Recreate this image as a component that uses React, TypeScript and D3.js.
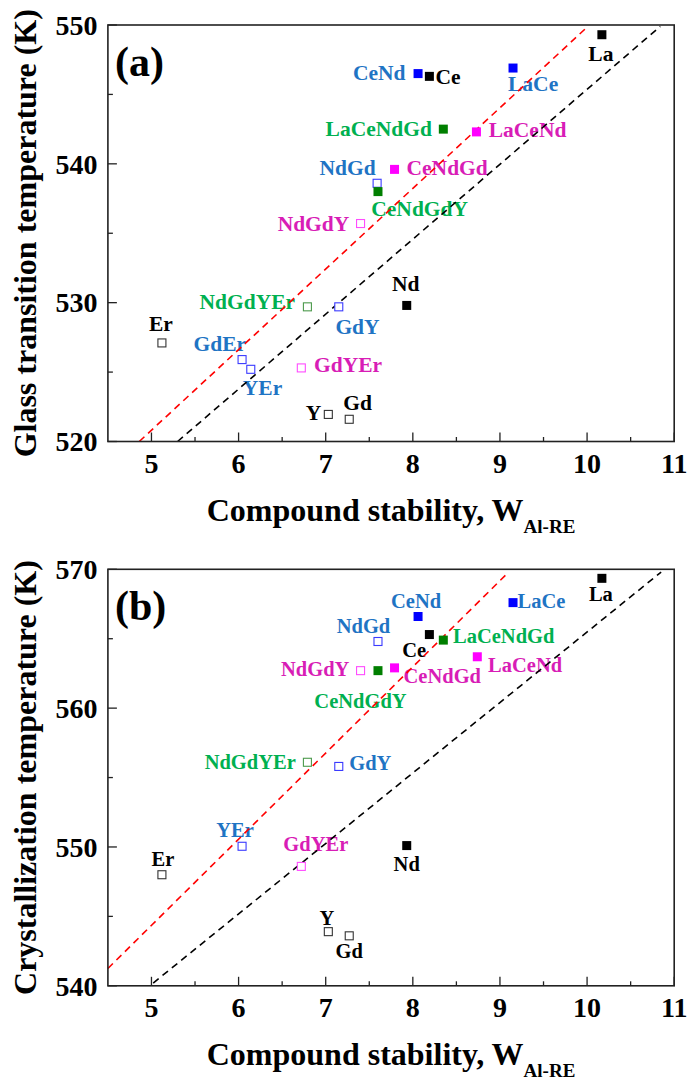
import React from 'react';
import * as d3 from 'd3';

const W = 688;
const H = 1081;
const FONT = "'Liberation Serif', 'Times New Roman', serif";

// ---- panel (a): glass transition temperature ----
const namesA = ['La', 'Ce', 'Nd', 'Er', 'Y', 'Gd', 'CeNd', 'LaCe', 'NdGd', 'GdEr', 'YEr', 'GdY',
  'LaCeNdGd', 'CeNdGdY', 'NdGdYEr', 'LaCeNd', 'CeNdGd', 'NdGdY', 'GdYEr'];
const groupsA = ['k', 'k', 'k', 'k', 'k', 'k', 'b', 'b', 'b', 'b', 'b', 'b', 'g', 'g', 'g', 'm', 'm', 'm', 'm'];
const filledA = [1, 1, 1, 0, 0, 0, 1, 1, 0, 0, 0, 0, 1, 1, 0, 1, 1, 0, 0];
const wA = [10.17, 8.19, 7.93, 5.12, 7.03, 7.27, 8.06, 9.15, 7.59, 6.04, 6.14, 7.15,
  8.35, 7.6, 6.79, 8.73, 7.79, 7.4, 6.72];
const tgA = [549.3, 546.3, 529.8, 527.1, 521.95, 521.6, 546.5, 546.9, 538.6, 525.9, 525.2, 529.7,
  542.5, 538.0, 529.7, 542.3, 539.6, 535.7, 525.3];
const redLineA = [[4.86, 520], [10.01, 549.9]];
const blackLineA = [[5.3, 520], [10.84, 549.9]];
const yTicksA = [520, 530, 540, 550];

// ---- panel (b): crystallization temperature ----
const namesB = ['La', 'Ce', 'Nd', 'Er', 'Y', 'Gd', 'CeNd', 'LaCe', 'NdGd', 'YEr', 'GdY',
  'LaCeNdGd', 'CeNdGdY', 'NdGdYEr', 'LaCeNd', 'CeNdGd', 'NdGdY', 'GdYEr'];
const groupsB = ['k', 'k', 'k', 'k', 'k', 'k', 'b', 'b', 'b', 'b', 'b', 'g', 'g', 'g', 'm', 'm', 'm', 'm'];
const filledB = [1, 1, 1, 0, 0, 0, 1, 1, 0, 0, 0, 1, 1, 0, 1, 1, 0, 0];
const wB = [10.17, 8.19, 7.93, 5.12, 7.03, 7.27, 8.06, 9.15, 7.6, 6.04, 7.15,
  8.35, 7.6, 6.79, 8.74, 7.79, 7.4, 6.72];
const txB = [569.35, 565.3, 550.1, 548.0, 543.9, 543.6, 566.6, 567.6, 564.8, 550.05, 555.8,
  564.9, 562.7, 556.1, 563.7, 562.9, 562.7, 548.6];
const redLineB = [[4.5, 541.25], [9.1, 569.8]];
const blackLineB = [[5.02, 540.2], [10.85, 569.8]];
const yTicksB = [540, 550, 560, 570];

const xTicks = [5, 6, 7, 8, 9, 10, 11];

// label placement relative to the marker: dx, dy, anchor
const labelPosA = {
  La: [-1, 26, 'middle'], Ce: [6, 7.5, 'start'], Nd: [-1, -14, 'middle'], Er: [-1, -11.7, 'middle'],
  Y: [-7, 5.5, 'end'], Gd: [-6, -9, 'start'], CeNd: [-12.5, 6, 'end'], LaCe: [-5, 22.6, 'start'],
  NdGd: [-1.5, -8, 'end'], GdEr: [4, -8.7, 'end'], YEr: [-8, 25.7, 'start'], GdY: [-3.4, 27, 'start'],
  LaCeNdGd: [-11.4, 6.4, 'end'], CeNdGdY: [-6.7, 24.6, 'start'], NdGdYEr: [-12.3, 2.3, 'end'],
  LaCeNd: [12.3, 5.4, 'start'], CeNdGd: [12, 6, 'start'], NdGdY: [-11.2, 7.5, 'end'], GdYEr: [12.7, 4.4, 'start'],
};
const labelPosB = {
  La: [-1, 22.3, 'middle'], Ce: [-3.3, 22.2, 'end'], Nd: [0, 25, 'middle'], Er: [1, -8.7, 'middle'],
  Y: [-1.5, -7, 'middle'], Gd: [0, 22, 'middle'], CeNd: [-2, -9, 'middle'], LaCe: [4.5, 5, 'start'],
  NdGd: [-14.5, -8, 'middle'], YEr: [-7, -9.3, 'middle'], GdY: [10.5, 3.8, 'start'],
  LaCeNdGd: [9.7, 3.3, 'start'], CeNdGdY: [-17.5, 37.7, 'middle'], NdGdYEr: [-11.6, 6.5, 'end'],
  LaCeNd: [10.8, 15.7, 'start'], CeNdGd: [9, 15.3, 'start'], NdGdY: [-11.2, 5.3, 'end'], GdYEr: [14.5, -15, 'middle'],
};

const markerFill = { k: '#000000', b: '#0000ff', g: '#007f00', m: '#ff00ff' };
const markerStroke = { k: '#333333', b: '#3a3aff', g: '#4c9a4c', m: '#ff4cff' };
const labelColor = { k: '#000000', b: '#1f74c4', g: '#00b050', m: '#d81db6' };

const LEFT = 107.9;
const RIGHT = 674.2;
const PH = 416.5;

function Panel({ top, letter, names, groups, filled, w, t, pos, yDomain, yTicks, lines, yTitle, labelSize }) {
  const bottom = top + PH;
  const x = d3.scaleLinear().domain([4.5, 11]).range([LEFT, RIGHT]);
  const y = d3.scaleLinear().domain(yDomain).range([bottom, top]);
  const line = d3.line().x((d) => x(d[0])).y((d) => y(d[1]));
  const minorX = d3.range(5.5, 11, 1);
  const minorY = d3.range(yDomain[0] + 5, yDomain[1], 10);
  const ms = 9;

  return (
    <g fontFamily={FONT} fontWeight="bold">
      {/* ticks */}
      {xTicks.map((v) => (
        <line key={'xt' + v} x1={x(v)} x2={x(v)} y1={bottom} y2={bottom - 9} stroke="#222" strokeWidth={1.3} />
      ))}
      {minorX.map((v) => (
        <line key={'xm' + v} x1={x(v)} x2={x(v)} y1={bottom} y2={bottom - 4.5} stroke="#222" strokeWidth={1.3} />
      ))}
      {yTicks.map((v) => (
        <line key={'yt' + v} x1={LEFT} x2={LEFT + 9} y1={y(v)} y2={y(v)} stroke="#222" strokeWidth={1.3} />
      ))}
      {minorY.map((v) => (
        <line key={'ym' + v} x1={LEFT} x2={LEFT + 5} y1={y(v)} y2={y(v)} stroke="#222" strokeWidth={1.3} />
      ))}

      {/* tick labels */}
      {xTicks.map((v) => (
        <text key={'xl' + v} x={x(v)} y={bottom + 31} textAnchor="middle" fontSize={28} fill="#000">{v}</text>
      ))}
      {yTicks.map((v) => (
        <text key={'yl' + v} x={LEFT - 10.5} y={y(v)} dy="0.35em" textAnchor="end" fontSize={28} fill="#000">{v}</text>
      ))}

      {/* axis titles */}
      <text x={(LEFT + RIGHT) / 2} y={bottom + 79.5} textAnchor="middle" fontSize={32} fill="#000">
        Compound stability, W<tspan fontSize={19} dy={12}>Al-RE</tspan>
      </text>
      <text transform={`translate(36,${(top + bottom) / 2}) rotate(-90)`} textAnchor="middle" fontSize={32} fill="#000">
        {yTitle}
      </text>

      <text x={115} y={top + 51} fontSize={42} fill="#000">{letter}</text>

      {/* point labels */}
      {names.map((n, i) => {
        const p = pos[n];
        return (
          <text key={'lb' + n} x={x(w[i]) + p[0]} y={y(t[i]) + p[1]} textAnchor={p[2]}
            fontSize={labelSize} fill={labelColor[groups[i]]}>{n}</text>
        );
      })}

      {/* dashed guide lines */}
      <path d={line(lines[0])} fill="none" stroke="#ff0000" strokeWidth={1.6} strokeDasharray="7,5" />
      <path d={line(lines[1])} fill="none" stroke="#000000" strokeWidth={1.6} strokeDasharray="7,5" />

      {/* markers */}
      {names.map((n, i) => (
        filled[i]
          ? <rect key={'mk' + n} x={x(w[i]) - ms / 2} y={y(t[i]) - ms / 2} width={ms} height={ms}
              fill={markerFill[groups[i]]} />
          : <rect key={'mk' + n} x={x(w[i]) - ms / 2 + 0.5} y={y(t[i]) - ms / 2 + 0.5} width={ms - 1} height={ms - 1}
              fill="#fff" stroke={markerStroke[groups[i]]} strokeWidth={1.1} />
      ))}

      {/* frame */}
      <rect x={LEFT} y={top} width={RIGHT - LEFT} height={PH} fill="none" stroke="#222" strokeWidth={1.6} />
    </g>
  );
}

export default function App() {
  return (
    <svg width={W} height={H} style={{ position: 'absolute', left: 0, top: 0, background: '#fff' }}>
      <rect width={W} height={H} fill="#fff" />
      <Panel top={25} letter="(a)" names={namesA} groups={groupsA} filled={filledA} w={wA} t={tgA}
        pos={labelPosA} yDomain={[520, 550]} yTicks={yTicksA} lines={[redLineA, blackLineA]}
        yTitle="Glass transition temperature (K)" labelSize={21.5} />
      <Panel top={569.3} letter="(b)" names={namesB} groups={groupsB} filled={filledB} w={wB} t={txB}
        pos={labelPosB} yDomain={[540, 570]} yTicks={yTicksB} lines={[redLineB, blackLineB]}
        yTitle="Crystallization temperature (K)" labelSize={20.5} />
    </svg>
  );
}
